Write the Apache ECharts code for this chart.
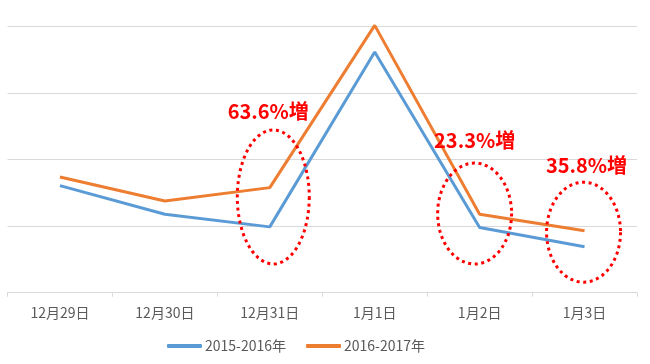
<!DOCTYPE html>
<html><head><meta charset="utf-8">
<script src="https://cdn.jsdelivr.net/npm/echarts@6/dist/echarts.min.js"></script>
<style>html,body{margin:0;padding:0;background:#fff}#c{width:650px;height:364px}</style>
</head><body><div id="c"></div>
<script>
var categories = ['12月29日','12月30日','12月31日','1月1日','1月2日','1月3日'];
var series2015 = [161, 118, 99, 362, 98, 69];
var series2016 = [174, 138, 158, 402, 118, 93];
var seriesNames = ['2015-2016年','2016-2017年'];
var annoText = ['63.6%増','23.3%増','35.8%増'];
var annoCat = [2, 4, 5];

var chart = echarts.init(document.getElementById('c'), null, {renderer:'canvas'});
var baseFont = "'Noto Sans CJK JP', 'Noto Sans', sans-serif";
chart.setOption({
  animation:false,
  grid:{left:7.5, right:13, top:26.7, bottom:71.3},
  legend:{left:162, top:334, itemWidth:35, itemHeight:4, itemGap:20,
    icon:'roundRect',
    textStyle:{color:'#595959', fontSize:14, fontFamily:baseFont, padding:[0,0,0,-2]},
    data:seriesNames},
  xAxis:{type:'category', data:categories, boundaryGap:true,
    axisLine:{lineStyle:{color:'#d9d9d9', width:1}},
    axisTick:{show:true, length:4, lineStyle:{color:'#d9d9d9'}},
    axisLabel:{color:'#595959', fontSize:14, fontFamily:baseFont, margin:13}},
  yAxis:{type:'value', min:0, max:400, interval:100,
    axisLabel:{show:false}, axisLine:{show:false}, axisTick:{show:false},
    splitLine:{lineStyle:{color:'#d9d9d9', width:1}}},
  series:[
    {name:seriesNames[0], type:'line', data:series2015, clip:false, symbol:'none',
     lineStyle:{color:'#5b9bd5', width:3}, itemStyle:{color:'#5b9bd5'}},
    {name:seriesNames[1], type:'line', data:series2016, clip:false, symbol:'none',
     lineStyle:{color:'#ed7d31', width:3}, itemStyle:{color:'#ed7d31'}}
  ]
});

// annotations positioned relative to the category axis
function ellipsePts(cx, cy, rx, ry){
  var pts=[]; for(var i=0;i<72;i++){var a=i/72*Math.PI*2; pts.push([cx+rx*Math.cos(a), cy+ry*Math.sin(a)]);} return pts;
}
var ellOff = [[3.5, 144, 36, 67],[-5, 119, 37, 50.5],[-1, 91, 37, 50]];
var txtOff = [[-1.5, 111],[-5, 140],[2, 165]];
var gfx=[];
for (var k=0;k<annoCat.length;k++){
  var cx = chart.convertToPixel({xAxisIndex:0}, annoCat[k]);
  var cy = chart.convertToPixel({yAxisIndex:0}, ellOff[k][1]);
  gfx.push({type:'polygon', shape:{points:ellipsePts(cx+ellOff[k][0], cy, ellOff[k][2], ellOff[k][3])},
    style:{fill:'none', stroke:'#ff0000', lineWidth:3, lineDash:[3,3.6]}, z:10});
  gfx.push({type:'text', x:cx+txtOff[k][0], y:txtOff[k][1],
    style:{text:annoText[k], fill:'#ff0000', font:"bold 20px 'Liberation Sans Narrow', 'Noto Sans CJK JP', sans-serif",
      textAlign:'center', textVerticalAlign:'middle'}, z:11});
}
chart.setOption({graphic:gfx});
</script></body></html>
